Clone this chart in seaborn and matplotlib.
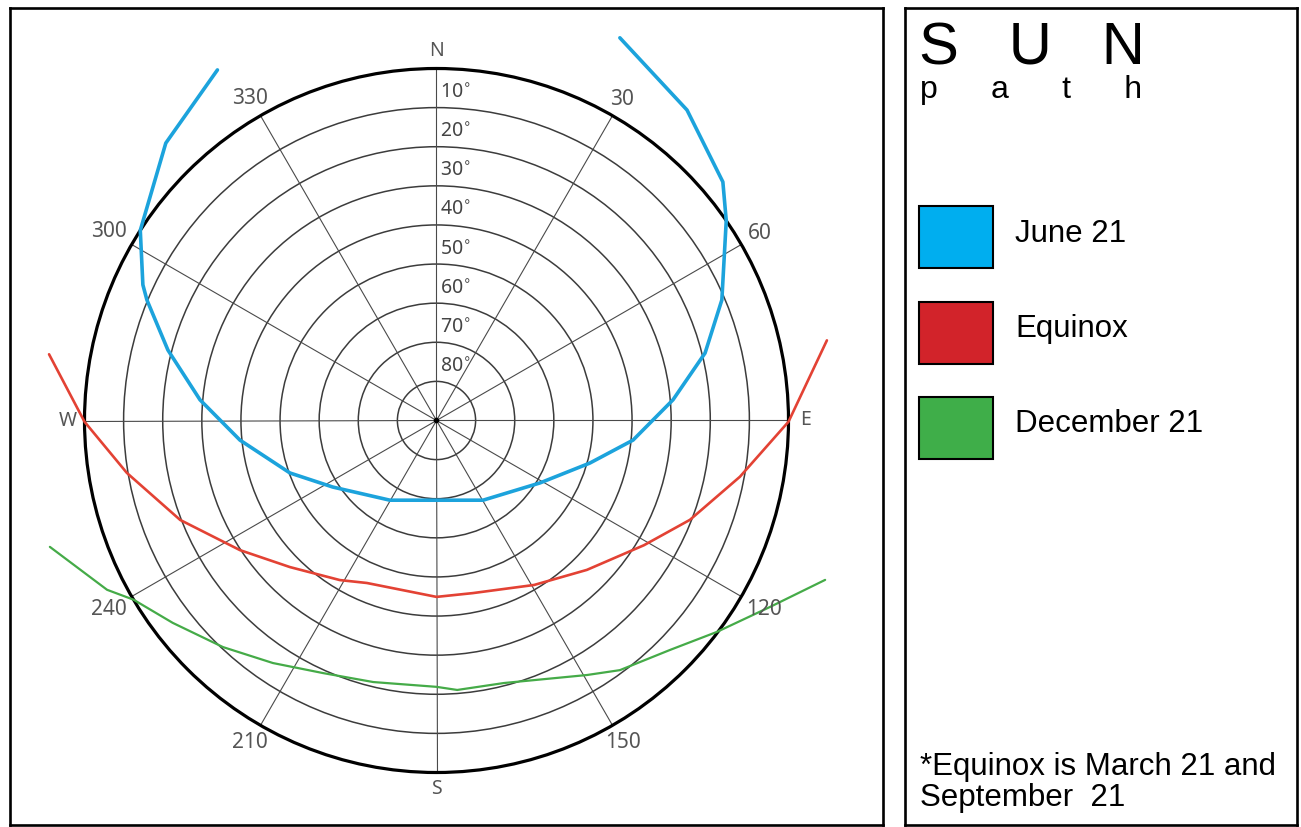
import numpy as np
import pandas as pd
import matplotlib
matplotlib.use("Agg")
import matplotlib.pyplot as plt
from matplotlib.patches import Rectangle, Circle
import seaborn as sns

# ---- sun positions: azimuth (deg, clockwise from north) and altitude (deg) ----
# negative altitudes continue the path just beyond the horizon circle
june_azimuth = [328.0, 315.7, 302.7, 294.8, 292.6, 284.7, 275.0, 264.3, 250.3, 237.3,
                210.3, 177.5, 149.7, 121.1, 105.5, 95.7, 85.0, 75.9, 67.1, 55.4,
                50.2, 38.9, 25.6]
june_altitude = [-15.7, -9.1, 0.0, 7.3, 9.8, 19.0, 29.3, 39.5, 50.2, 58.5,
                 66.4, 69.6, 66.4, 59.1, 49.3, 39.5, 29.3, 19.2, 10.8, 0.0,
                 -5.3, -12.0, -18.5]

equinox_azimuth = [279.7, 269.8, 260.4, 248.8, 236.6, 225.0, 211.2, 203.2, 180.0,
                   168.1, 149.3, 134.8, 121.0, 111.4, 100.5, 90.2, 78.4]
equinox_altitude = [-10.5, 0.0, 9.7, 19.7, 29.8, 37.0, 42.3, 44.8, 44.9,
                    44.9, 41.1, 35.8, 28.1, 20.4, 11.1, 0.0, -11.9]

december_azimuth = [251.9, 242.8, 239.4, 232.5, 223.3, 214.0, 204.2, 193.6, 180.0,
                    175.6, 165.6, 149.4, 143.7, 134.5, 127.0, 119.2, 112.3]
december_altitude = [-14.0, -4.7, 0.0, 5.0, 10.4, 15.2, 19.2, 21.2, 21.9,
                     20.9, 20.7, 14.4, 10.8, 6.3, 0.2, -7.7, -17.4]

path_names = ["June 21", "Equinox", "December 21"]
line_colors = {"June 21": "#1ca3dc", "Equinox": "#e34234", "December 21": "#45ab48"}
swatch_colors = ["#00aeef", "#d2232a", "#3fae49"]

ring_altitudes = [10, 20, 30, 40, 50, 60, 70, 80]
compass_azimuths = [0, 30, 60, 90, 120, 150, 180, 210, 240, 270, 300, 330]
compass_labels = ["N", "30", "60", "E", "120", "150", "S", "210", "240", "W", "300", "330"]

title_text = "S   U   N"
subtitle_text = "p      a      t      h"
note_lines = ["*Equinox is March 21 and", "September  21"]


def to_xy(az, alt):
    az = np.radians(np.asarray(az, dtype=float))
    r = 90.0 - np.asarray(alt, dtype=float)
    return r * np.sin(az), r * np.cos(az)


frames = []
for name, az, alt in [("June 21", june_azimuth, june_altitude),
                      ("Equinox", equinox_azimuth, equinox_altitude),
                      ("December 21", december_azimuth, december_altitude)]:
    x, y = to_xy(az, alt)
    frames.append(pd.DataFrame({"x": x, "y": y, "path": name}))
paths = pd.concat(frames, ignore_index=True)

sns.set_style("white")
plt.rcParams["font.family"] = ["Liberation Sans", "DejaVu Sans"]

W, H = 1301, 827
fig = plt.figure(figsize=(W / 100, H / 100), dpi=100)
fig.patch.set_facecolor("white")

# ---- sun-path diagram panel ----
s = 352.0 / 90.0           # pixels per degree of zenith distance
cx, cy = 436.5, 420.5      # diagram centre in pixels
L, R, T, B = 10, 883, 8, 825
ax = fig.add_axes([L / W, (H - B) / H, (R - L) / W, (B - T) / H])
ax.set_xlim((L - cx) / s, (R - cx) / s)
ax.set_ylim((cy - B) / s, (cy - T) / s)
ax.set_xticks([])
ax.set_yticks([])
for sp in ax.spines.values():
    sp.set_color("black")
    sp.set_linewidth(1.9)

grid_col = "#4a4a4a"
for alt in ring_altitudes:
    ax.add_patch(Circle((0, 0), 90 - alt, fill=False, ec="#3c3c3c", lw=1.1, zorder=1))
for az in compass_azimuths:
    x, y = to_xy([az], [0])
    ax.plot([0, x[0]], [0, y[0]], color=grid_col, lw=0.8, zorder=1)
ax.add_patch(Circle((0, 0), 90, fill=False, ec="black", lw=2.3, zorder=1.5))
ax.plot([0], [0], marker="o", ms=3, color="black", zorder=1.6)

sns.lineplot(data=paths, x="x", y="y", hue="path", size="path",
             hue_order=path_names, size_order=path_names,
             palette=line_colors,
             sizes={"June 21": 2.6, "Equinox": 1.9, "December 21": 1.6},
             sort=False, estimator=None, legend=False, ax=ax, zorder=3)
ax.set_xlabel("")
ax.set_ylabel("")

for az, lab in zip(compass_azimuths, compass_labels):
    a = np.radians(az)
    r_px = 369 + 6.5 * (len(lab) - 1) * np.sin(a) ** 2
    r = r_px / s
    fs = 14 if lab.isalpha() else 15
    ax.text(r * np.sin(a), r * np.cos(a), lab, ha="center", va="center",
            fontsize=fs, color="#555555", family="Noto Sans")

for alt in ring_altitudes:
    ax.text(0.9, (90 - alt) + 3.6, f"{alt}$^{{\\circ}}$", ha="left", va="center",
            fontsize=14, color="#444444", family="Noto Sans")

# ---- legend panel ----
LL, LR = 905, 1297
lax = fig.add_axes([LL / W, (H - B) / H, (LR - LL) / W, (B - T) / H])
lax.set_xlim(0, LR - LL)
lax.set_ylim(B - T, 0)
lax.set_xticks([])
lax.set_yticks([])
for sp in lax.spines.values():
    sp.set_color("black")
    sp.set_linewidth(1.9)

lax.text(14, 56, title_text, fontsize=43, va="baseline", ha="left", color="black")
lax.text(15, 90, subtitle_text, fontsize=23, va="baseline", ha="left", color="black")

swatch_tops = [198, 294, 389]
label_baselines = [233.7, 328.7, 423.7]
for name, col, top, base in zip(path_names, swatch_colors, swatch_tops, label_baselines):
    lax.add_patch(Rectangle((14, top), 74, 62, facecolor=col, edgecolor="black", lw=1.5))
    lax.text(110, base, name, fontsize=22.5, va="baseline", ha="left", color="black")

for i, line in enumerate(note_lines):
    lax.text(15, 767 + 31 * i, line, fontsize=22.5, va="baseline", ha="left", color="black")

fig.savefig("out.png", dpi=100)
